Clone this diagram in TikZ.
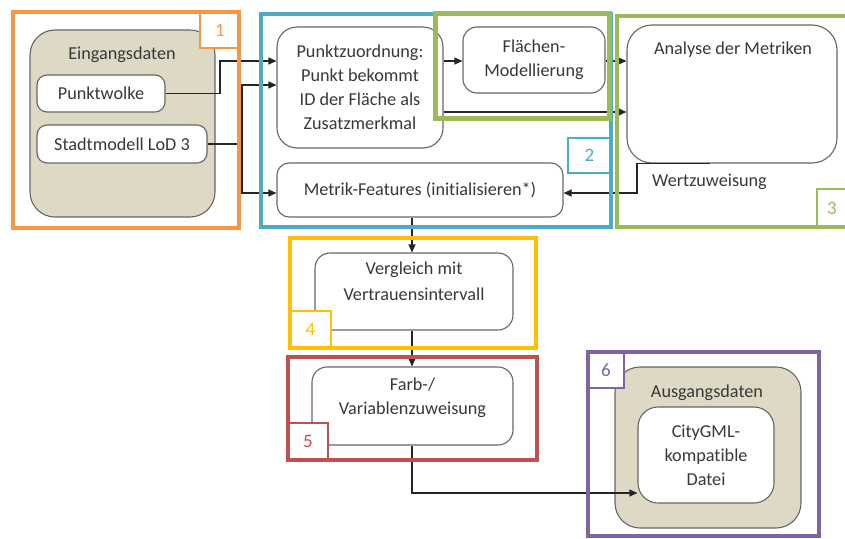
\documentclass[tikz,border=0pt]{standalone}
\usepackage{fontspec}
\setmainfont{Carlito}[Ligatures={NoCommon}]
\usetikzlibrary{arrows.meta}
\definecolor{txt}{HTML}{383838}
\definecolor{bord}{HTML}{666666}
\definecolor{beige}{HTML}{DDD9C4}
\definecolor{cOr}{HTML}{F79646}
\definecolor{cBl}{HTML}{4BACC6}
\definecolor{cGr}{HTML}{9BBB59}
\definecolor{cYe}{HTML}{FFC000}
\definecolor{cRe}{HTML}{C0504D}
\definecolor{cPu}{HTML}{8064A2}
\tikzset{
  bx/.style={draw=bord, line width=1.1pt, fill=white, rounded corners=10pt, inner sep=0pt,
    text=txt, align=center, font=\fontsize{18.2}{24}\selectfont},
  cont/.style={bx, fill=beige, rounded corners=25pt},
  ttl/.style={text=txt, inner sep=0pt, font=\fontsize{18.2}{24}\selectfont},
  conn/.style={draw=black!85, line width=1.1pt},
  arr/.style={conn, -{Triangle[length=8pt,width=7pt]}},
  frame/.style={line width=4pt},
  tag/.style={draw, line width=1.2pt, fill=white, inner sep=0pt, font=\fontsize{19}{20}\selectfont}
}
\begin{document}
\begin{tikzpicture}[x=1pt,y=-1pt]
\useasboundingbox (0,0) rectangle (845,538);
% containers
\node[cont, minimum width=185pt, minimum height=187pt] (eing) at (122.5,123.5) {};
\node[ttl] (eingt) at (122,55) {Eingangsdaten};
\node[bx, minimum width=128pt, minimum height=37pt] (pw) at (101,93.5) {Punktwolke};
\node[bx, minimum width=170pt, minimum height=38pt] (sm) at (122,144) {Stadtmodell LoD 3};

\node[bx, rounded corners=20pt, minimum width=166pt, minimum height=121pt] (pz) at (360,87.5)
  {Punktzuordnung:\\Punkt bekommt\\ID der Fläche als\\Zusatzmerkmal};
\node[bx, rounded corners=14pt, minimum width=142pt, minimum height=66pt] (fl) at (534,60)
  {Flächen-\\Modellierung};
\node[bx, rounded corners=25pt, minimum width=210pt, minimum height=138pt] (an) at (732,94) {};
\node[ttl] (ant) at (733,50) {Analyse der Metriken};
\node[bx, rounded corners=12pt, minimum width=286pt, minimum height=54pt] (mf) at (420,190)
  {Metrik-Features (initialisieren*)};
\node[ttl, anchor=west] (wz) at (652,182) {Wertzuweisung};

\node[bx, rounded corners=15pt, minimum width=198pt, minimum height=77pt] (vg) at (414,291.5)
  {Vergleich mit\\[2pt]Vertrauensintervall\\[-4pt]\mbox{}};
\node[bx, rounded corners=15pt, minimum width=201pt, minimum height=78pt] (fb) at (412.5,406)
  {Farb-/\\Variablenzuweisung\\[-4pt]\mbox{}};

\node[cont, minimum width=186pt, minimum height=161pt] (aus) at (708,447.5) {};
\node[ttl] (aust) at (707,393) {Ausgangsdaten};
\node[bx, rounded corners=20pt, minimum width=136pt, minimum height=96pt] (cg) at (706,455)
  {CityGML-\\kompatible\\Datei};

% connectors
\draw[arr] (pw.east) -- (220,93.5) |- (pz.west |- 0,61);
\draw[arr] (sm.east) -| (242,85) -- (pz.west |- 0,85);
\draw[arr] (sm.east) -| (242,193) -- (mf.west |- 0,193);
\draw[arr] (pz.east |- 0,61) -- (fl.west |- 0,61);
\draw[arr] (fl.east |- 0,61) -- (an.west |- 0,61);
\draw[arr] (pz.east |- 0,112) -- (an.west |- 0,112);
\draw[arr] ([xshift=-22pt]an.south) -| (637,193) -- (mf.east |- 0,193);
\draw[arr] (mf.south -| 412,0) -- (vg.north -| 412,0);
\draw[arr] (vg.south -| 412,0) -- (fb.north -| 412,0);
\draw[arr] (fb.south -| 412,0) |- (cg.west |- 0,493);

% tags
\node[tag, draw=cOr, text=cOr, minimum width=40pt, minimum height=36pt] (t1) at (220,30) {1};
\node[tag, draw=cBl, text=cBl, minimum width=43pt, minimum height=35pt] (t2) at (589.5,155.5) {2};
\node[tag, draw=cGr, text=cGr, minimum width=30pt, minimum height=38pt] (t3) at (832,208) {3};
\node[tag, draw=cYe, text=cYe, minimum width=41pt, minimum height=37pt] (t4) at (310.5,329.5) {4};
\node[tag, draw=cRe, text=cRe, minimum width=40pt, minimum height=37pt] (t5) at (308,441.5) {5};
\node[tag, draw=cPu, text=cPu, minimum width=36pt, minimum height=36pt] (t6) at (606,370) {6};

% frames
\draw[frame, cOr] (13,12) rectangle (239,228);
\draw[frame, cBl] (261,14) rectangle (611,227);
\draw[frame, cGr] (617,16) rectangle (850,227);
\draw[frame, cGr, line width=5pt] (435,13) rectangle (609,118);
\draw[frame, cYe] (290,238) rectangle (536,348);
\draw[frame, cRe] (288,357) rectangle (537,460);
\draw[frame, cPu] (588,352) rectangle (819,536);
\end{tikzpicture}
\end{document}
